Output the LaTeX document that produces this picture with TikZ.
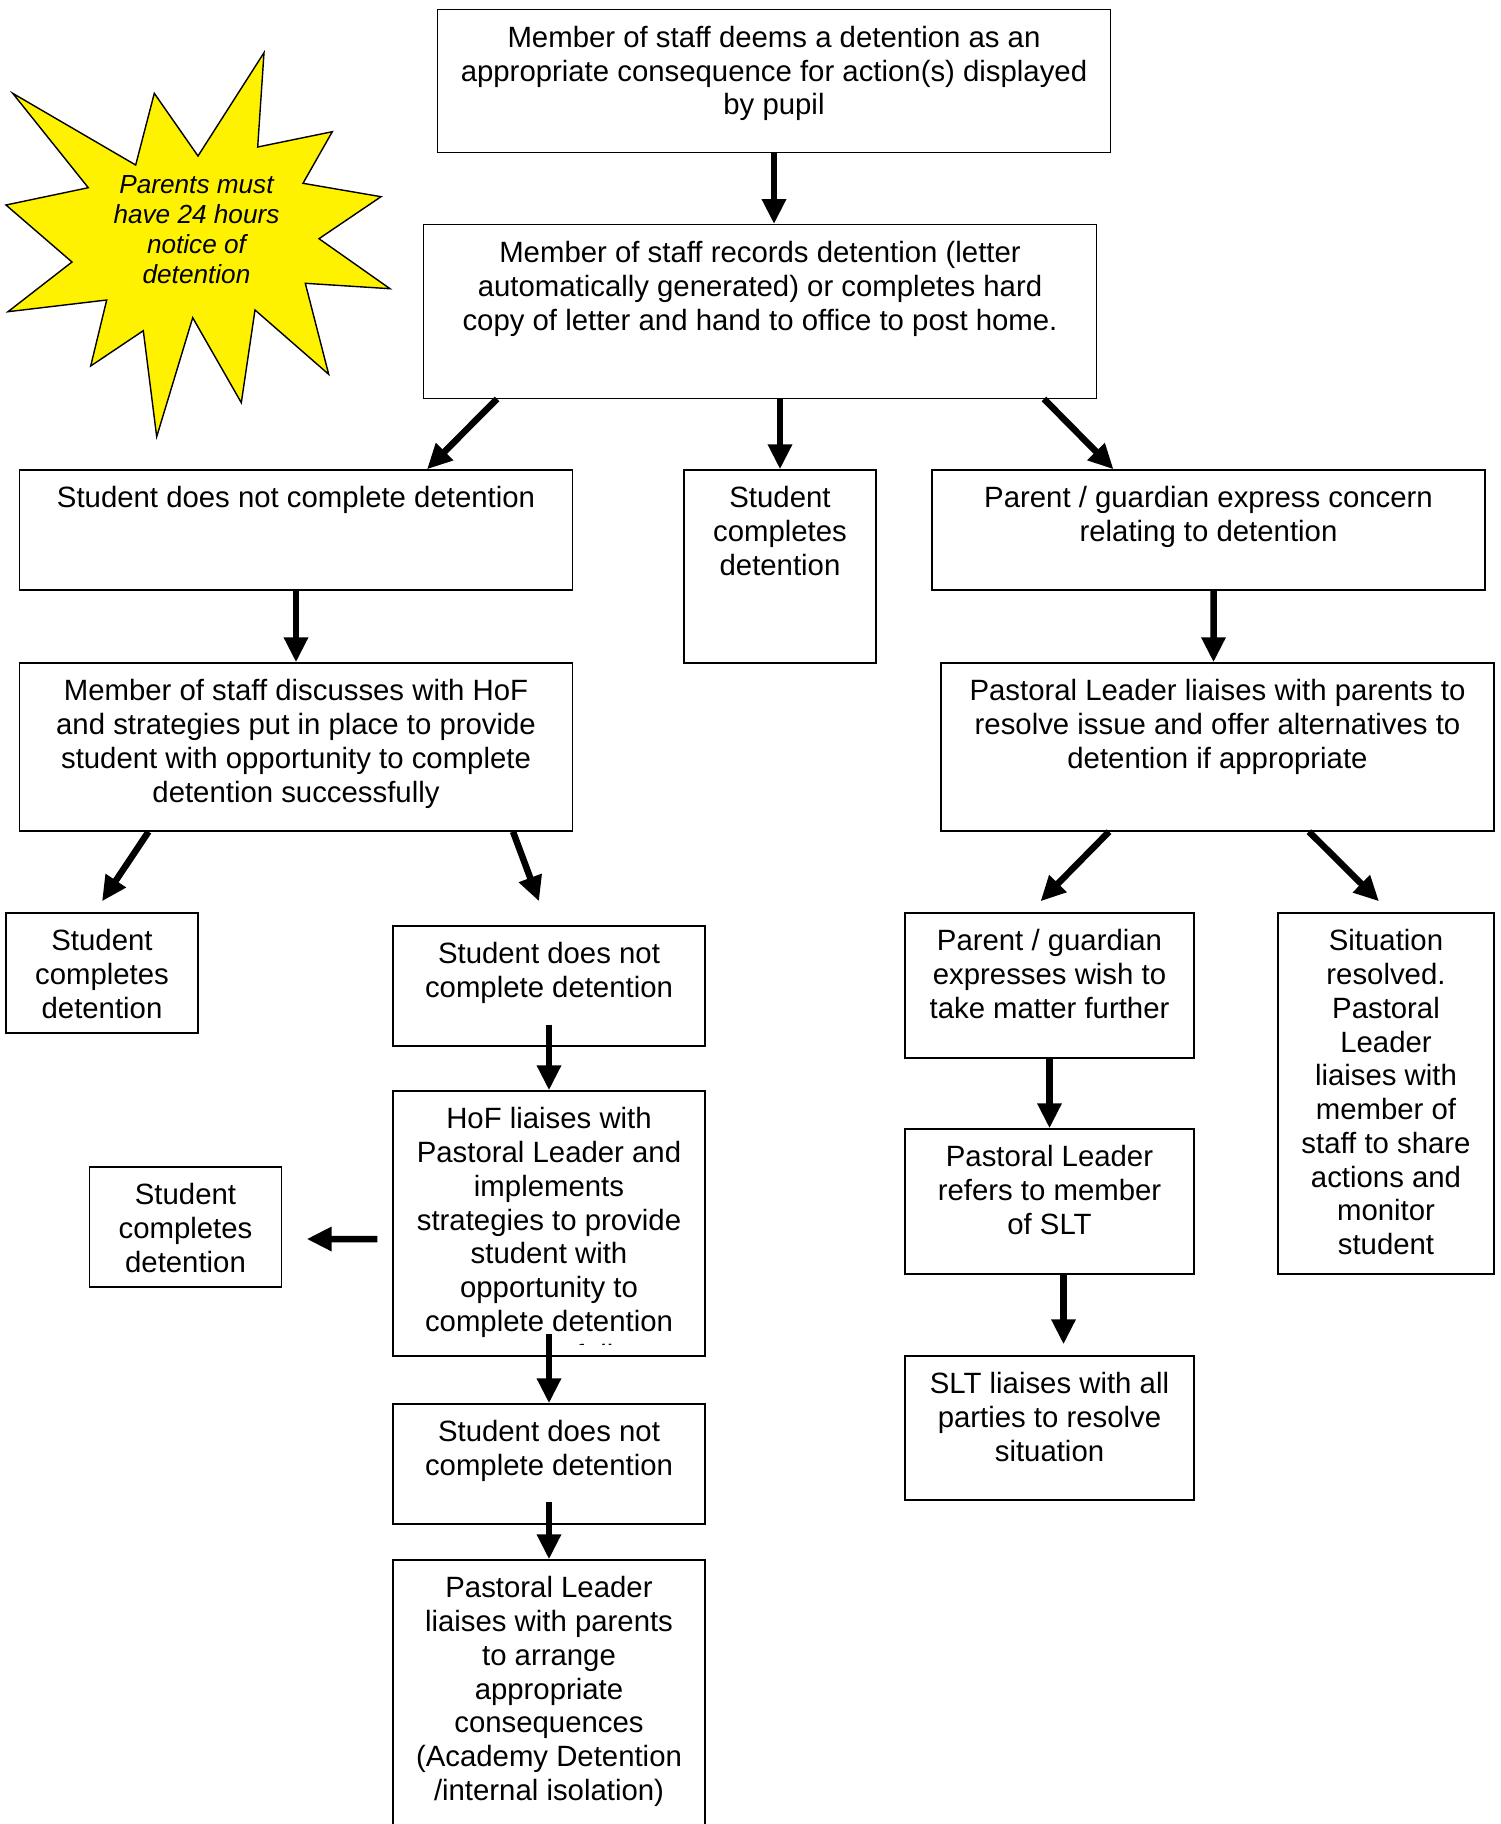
\documentclass[tikz,border=0pt]{standalone}
\usepackage{fontspec}
\setmainfont{Liberation Sans}
\usetikzlibrary{arrows.meta}

\tikzset{
  stepbox/.style={draw,line width=0.8pt,rectangle,inner sep=0pt},
  boxtext/.style={anchor=north,inner sep=0pt,yshift=-0.34cm,align=center,
    font=\fontsize{16.7}{19.2}\selectfont},
  flow/.style={-{Triangle[width=0.46cm,length=0.5cm]},line width=0.13cm},
}

\begin{document}
\begin{tikzpicture}
  \useasboundingbox (0,0) rectangle (30.02,-36.48);

  % star
  \draw[fill=yellow,line width=0.8pt]
  (0.254,-1.866) -- (2.714,-3.30) -- (3.086,-1.866) -- (3.96,-3.12)
  -- (5.28,-1.054) -- (5.154,-2.94) -- (6.646,-2.634) -- (6.06,-3.666)
  -- (7.62,-3.934) -- (6.38,-4.774) -- (7.80,-5.774) -- (6.106,-5.666)
  -- (6.574,-7.486) -- (5.10,-6.20) -- (4.826,-8.054) -- (3.854,-6.354)
  -- (3.134,-8.734) -- (2.866,-6.614) -- (1.814,-7.32) -- (2.134,-6.00)
  -- (0.16,-6.234) -- (1.44,-5.24) -- (0.12,-4.10) -- (1.766,-3.754) -- cycle;
  \node[align=center,font=\fontsize{14.9}{17.1}\selectfont\itshape] (notice) at (3.93,-4.6)
  {Parents must\\have 24 hours\\notice of\\detention};

  \node[stepbox,minimum width=13.45cm,minimum height=2.86cm,
  label={[boxtext]north:{Member of staff deems a detention as an\\appropriate consequence for action(s) displayed\\by pupil}}]
  (deems) at (15.48,-1.62) {};
  \node[stepbox,minimum width=13.45cm,minimum height=3.47cm,
  label={[boxtext]north:{Member of staff records detention (letter\\automatically generated) or completes hard\\copy of letter and hand to office to post home.}}]
  (records) at (15.20,-6.23) {};

  \node[stepbox,minimum width=11.05cm,minimum height=2.40cm,
  label={[boxtext]north:{Student does not complete detention}}]
  (notdone) at (5.92,-10.60) {};
  \node[stepbox,minimum width=3.84cm,minimum height=3.86cm,
  label={[boxtext]north:{Student\\completes\\detention}}]
  (done) at (15.60,-11.33) {};
  \node[stepbox,minimum width=11.06cm,minimum height=2.40cm,
  label={[boxtext]north:{Parent / guardian express concern\\relating to detention}}]
  (concern) at (24.17,-10.60) {};

  \node[stepbox,minimum width=11.05cm,minimum height=3.36cm,
  label={[boxtext]north:{Member of staff discusses with HoF\\and strategies put in place to provide\\student with opportunity to complete\\detention successfully}}]
  (discuss) at (5.92,-14.94) {};
  \node[stepbox,minimum width=11.06cm,minimum height=3.36cm,
  label={[boxtext]north:{Pastoral Leader liaises with parents to\\resolve issue and offer alternatives to\\detention if appropriate}}]
  (liaise) at (24.35,-14.94) {};

  % left branch
  \node[stepbox,minimum width=3.84cm,minimum height=2.40cm,
  label={[boxtext]north:{Student\\completes\\detention}}]
  (doneA) at (2.04,-19.46) {};
  \node[stepbox,minimum width=6.24cm,minimum height=2.40cm,
  label={[boxtext]north:{Student does not\\complete detention}}]
  (notdoneA) at (10.98,-19.72) {};
  \node[stepbox,minimum width=6.24cm,minimum height=5.30cm]
  (hof) at (10.98,-24.47) {};
  \begin{scope}
    \clip ([yshift=0.25cm]hof.south west) rectangle (hof.north east);
    \node[boxtext] (hoftext) at (hof.north)
    {HoF liaises with\\Pastoral Leader and\\implements\\strategies to provide\\student with\\opportunity to\\complete detention\\successfully};
  \end{scope}
  \node[stepbox,minimum width=3.84cm,minimum height=2.40cm,
  label={[boxtext]north:{Student\\completes\\detention}}]
  (doneB) at (3.71,-24.54) {};
  \node[stepbox,minimum width=6.24cm,minimum height=2.40cm,
  label={[boxtext]north:{Student does not\\complete detention}}]
  (notdoneB) at (10.98,-29.28) {};
  \node[stepbox,minimum width=6.24cm,minimum height=5.60cm,
  label={[boxtext]north:{Pastoral Leader\\liaises with parents\\to arrange\\appropriate\\consequences\\(Academy Detention\\/internal isolation)}}]
  (arrange) at (10.98,-34.0) {};

  % right branch
  \node[stepbox,minimum width=5.78cm,minimum height=2.90cm,
  label={[boxtext]north:{Parent / guardian\\expresses wish to\\take matter further}}]
  (further) at (20.99,-19.71) {};
  \node[stepbox,minimum width=4.32cm,minimum height=7.22cm,
  label={[boxtext]north:{Situation\\resolved.\\Pastoral\\Leader\\liaises with\\member of\\staff to share\\actions and\\monitor\\student}}]
  (resolved) at (27.72,-21.87) {};
  \node[stepbox,minimum width=5.78cm,minimum height=2.90cm,
  label={[boxtext]north:{Pastoral Leader\\refers to member\\of SLT}}]
  (refer) at (20.99,-24.03) {};
  \node[stepbox,minimum width=5.78cm,minimum height=2.88cm,
  label={[boxtext]north:{SLT liaises with all\\parties to resolve\\situation}}]
  (slt) at (20.99,-28.56) {};

  \draw[flow] (deems.south) -- (deems.south |- records.north);
  \draw[flow] ([xshift=-5.26cm]records.south) -- ([xshift=2.62cm]notdone.north);
  \draw[flow] (records.south -| done.north) -- (done.north);
  \draw[flow] ([xshift=5.68cm]records.south) -- ([xshift=-1.90cm]concern.north);
  \draw[flow] (notdone.south) -- (discuss.north);
  \draw[flow] ([xshift=0.1cm]concern.south) -- ([xshift=-0.08cm]liaise.north);
  \draw[flow] ([xshift=-2.95cm]discuss.south) -- ([yshift=0.22cm]doneA.north);
  \draw[flow] ([xshift=4.34cm]discuss.south) -- ([xshift=-0.2cm,yshift=0.48cm]notdoneA.north);
  \draw[flow] ([xshift=-2.17cm]liaise.south) -- ([xshift=-0.18cm,yshift=0.22cm]further.north);
  \draw[flow] ([xshift=1.83cm]liaise.south) -- ([xshift=-0.14cm,yshift=0.22cm]resolved.north);
  \draw[flow] ([yshift=0.44cm]notdoneA.south) -- (hof.north);
  \draw[flow] ([shift={(-0.3,-0.31)}]hof.west) -- ([shift={(0.49,-0.24)}]doneB.east);
  \draw[flow] ([yshift=0.45cm]hof.south) -- (notdoneB.north);
  \draw[flow] ([yshift=0.46cm]notdoneB.south) -- (arrange.north);
  \draw[flow] (further.south) -- (refer.north);
  \draw[flow] ([xshift=0.28cm]refer.south) -- ([xshift=0.28cm,yshift=0.22cm]slt.north);
\end{tikzpicture}
\end{document}
